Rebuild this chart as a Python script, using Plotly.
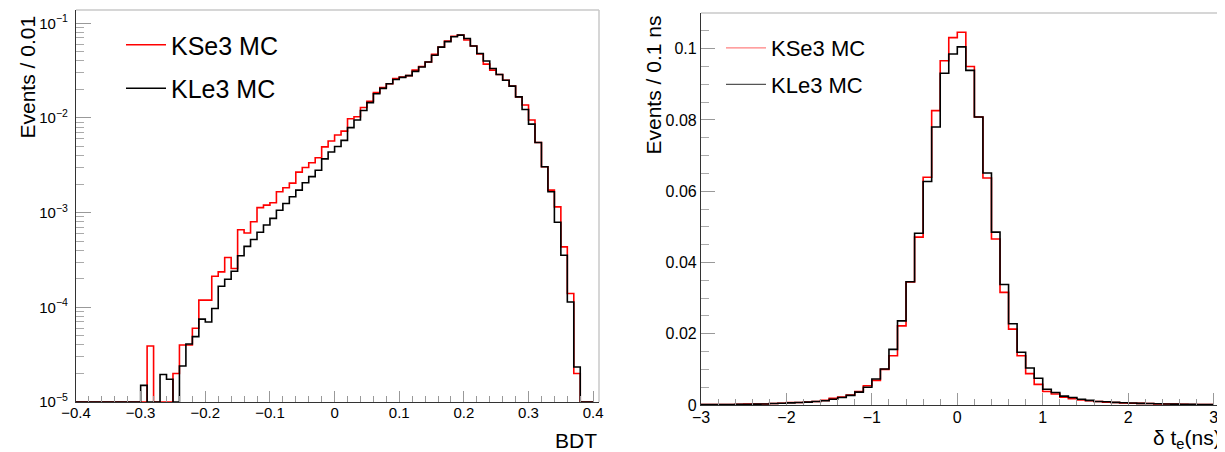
import numpy as np
import plotly.graph_objects as go

# ---------------- data: BDT (left panel), bins of 0.01 from -0.40 ----------------
bdt_low = -0.40
bdt_width = 0.01
bdt_kse3 = [
    0, 0, 0, 0, 0, 0, 0, 0, 0, 0,
    0, 3.9e-5, 0, 0, 0, 2.0e-5, 4.0e-5, 4.0e-5, 6.0e-5, 1.19e-4,
    1.19e-4, 2.13e-4, 2.37e-4, 3.36e-4, 2.57e-4, 6.6e-4, 6.1e-4, 8.0e-4, 1.13e-3, 1.2e-3,
    1.27e-3, 1.66e-3, 1.83e-3, 2.05e-3, 2.68e-3, 3.0e-3, 3.36e-3, 3.8e-3, 4.95e-3, 5.7e-3,
    6.6e-3, 7.25e-3, 9.8e-3, 1.03e-2, 1.29e-2, 1.5e-2, 1.85e-2, 2.1e-2, 2.3e-2, 2.6e-2,
    2.7e-2, 2.8e-2, 3.2e-2, 3.5e-2, 3.9e-2, 4.7e-2, 5.6e-2, 6.5e-2, 7.3e-2, 7.5e-2,
    6.65e-2, 5.75e-2, 4.73e-2, 3.7e-2, 3.2e-2, 2.88e-2, 2.5e-2, 2.17e-2, 1.67e-2, 1.37e-2,
    9.5e-3, 5.5e-3, 3.05e-3, 1.73e-3, 1.15e-3, 4.35e-4, 1.4e-4, 2.0e-5, 0, 0,
]
bdt_kle3 = [
    0, 0, 0, 0, 0, 0, 0, 0, 0, 0,
    1.5e-5, 0, 0, 1.95e-5, 1.74e-5, 0, 2.4e-5, 4.1e-5, 4.9e-5, 7.5e-5,
    7.0e-5, 9.7e-5, 1.67e-4, 1.98e-4, 2.4e-4, 3.5e-4, 4.4e-4, 5.2e-4, 6.2e-4, 7.4e-4,
    8.7e-4, 1.06e-3, 1.25e-3, 1.47e-3, 1.73e-3, 2.07e-3, 2.4e-3, 2.8e-3, 3.7e-3, 4.37e-3,
    5.0e-3, 5.8e-3, 7.9e-3, 9.5e-3, 1.2e-2, 1.45e-2, 1.8e-2, 2.05e-2, 2.3e-2, 2.55e-2,
    2.68e-2, 2.8e-2, 3.1e-2, 3.45e-2, 3.9e-2, 4.6e-2, 5.6e-2, 6.4e-2, 7.2e-2, 7.5e-2,
    6.9e-2, 5.75e-2, 4.8e-2, 4.0e-2, 3.33e-2, 2.88e-2, 2.5e-2, 2.17e-2, 1.67e-2, 1.23e-2,
    8.6e-3, 5.5e-3, 3.05e-3, 1.66e-3, 7.9e-4, 3.55e-4, 1.14e-4, 2.34e-5, 0, 0,
]

# ---------------- data: delta t_e (right panel), bins of 0.1 ns from -3 ----------------
dt_low = -3.0
dt_width = 0.1
dt_kse3 = [
    0.0001, 0.0001, 0.0001, 0.00015, 0.0002, 0.00025, 0.0003, 0.0003, 0.0004, 0.0005,
    0.0007, 0.0007, 0.0008, 0.0010, 0.0013, 0.0019, 0.0022, 0.0028, 0.0038, 0.0054,
    0.0069, 0.0100, 0.0138, 0.0222, 0.0345, 0.0471, 0.0639, 0.0826, 0.0966, 0.1031,
    0.1046, 0.0950, 0.0808, 0.0637, 0.0466, 0.0316, 0.0213, 0.0138, 0.0088, 0.0058,
    0.0038, 0.0031, 0.0022, 0.0018, 0.0014, 0.0012, 0.0010, 0.0008, 0.0007, 0.0006,
    0.0005, 0.00045, 0.0004, 0.0003, 0.0003, 0.00025, 0.0002, 0.00015, 0.00015, 0.0001,
]
dt_kle3 = [
    0.0001, 0.0001, 0.00015, 0.00015, 0.0002, 0.0002, 0.00025, 0.0003, 0.0004, 0.0005,
    0.0006, 0.0007, 0.0008, 0.0010, 0.0012, 0.0016, 0.0021, 0.0027, 0.0036, 0.0050,
    0.0073, 0.0101, 0.0156, 0.0236, 0.0346, 0.0482, 0.0627, 0.0780, 0.0931, 0.0985,
    0.1005, 0.0939, 0.0808, 0.0651, 0.0485, 0.0338, 0.0228, 0.0148, 0.0104, 0.0075,
    0.0044, 0.0035, 0.0025, 0.0021, 0.0016, 0.0013, 0.0010, 0.0009, 0.00075, 0.00065,
    0.00055, 0.00045, 0.0004, 0.00035, 0.0003, 0.00025, 0.0002, 0.0002, 0.00015, 0.00015,
]

series_names = ["KSe3 MC", "KLe3 MC"]
log_tick_vals = [1e-5, 1e-4, 1e-3, 1e-2, 1e-1]
log_tick_text = ["10<sup>\u22125</sup>", "10<sup>\u22124</sup>", "10<sup>\u22123</sup>",
                 "10<sup>\u22122</sup>", "10<sup>\u22121</sup>"]

FONT = "Liberation Sans, Arial, Helvetica, sans-serif"
RED = "#ff0000"
BLACK = "#000000"


def step(low, width, vals, floor=None):
    n = len(vals)
    edges = [round(low + i * width, 6) for i in range(n + 1)]
    y = list(vals) + [vals[-1]]
    if floor is not None:
        y = [v if v > 0 else floor for v in y]
    return edges, y


# The page body has an 8px default margin: size the figure to the remaining
# window and express page-pixel positions relative to the figure origin.
PAGE_W, PAGE_H, OFF = 1225, 452, 8
W, H = PAGE_W - OFF, PAGE_H - OFF


def fx(px):
    return (px - OFF) / W


def fy(py):
    return (PAGE_H - py) / H


fig = go.Figure()

# left panel
for vals, name, col, grp in [(bdt_kse3, series_names[0], RED, "a"), (bdt_kle3, series_names[1], BLACK, "b")]:
    xs, ys = step(bdt_low, bdt_width, vals, floor=1e-5)
    fig.add_trace(go.Scatter(x=xs, y=ys, mode="lines", name=name, legendgroup=grp,
                             line=dict(color=col, width=1.6, shape="hv"),
                             xaxis="x", yaxis="y", legend="legend"))

# right panel
for vals, name, col in [(dt_kse3, series_names[0], RED), (dt_kle3, series_names[1], BLACK)]:
    xs, ys = step(dt_low, dt_width, vals)
    fig.add_trace(go.Scatter(x=xs, y=ys, mode="lines", name=name, showlegend=False,
                             line=dict(color=col, width=1.6, shape="hv"),
                             xaxis="x2", yaxis="y2"))
# right legend entries (thin, lighter sample lines as in the reference)
for name, col, grp in [(series_names[0], "#ff8080", "c"), (series_names[1], "#555555", "d")]:
    fig.add_trace(go.Scatter(x=[None], y=[None], mode="lines", name=name, legendgroup=grp,
                             line=dict(color=col, width=1.2),
                             xaxis="x2", yaxis="y2", legend="legend2"))

axis_common = dict(showgrid=False, zeroline=False, showline=True, linecolor="#333333",
                   linewidth=1.2, ticks="inside", tickcolor="#999999", tickwidth=1.2,
                   automargin=False)

fig.update_layout(
    width=W, height=H, autosize=False,
    margin=dict(l=0, r=0, t=0, b=0, pad=0, autoexpand=False),
    paper_bgcolor="white", plot_bgcolor="white",
    font=dict(family=FONT, color="#000000"),
    xaxis=dict(domain=[fx(76), fx(599)], anchor="y", range=[-0.4, 0.409],
               tick0=0, dtick=0.1, ticklen=11, ticklabelstandoff=-3,
               tickfont=dict(family=FONT, size=15, color="#000000"),
               minor=dict(dtick=0.02, tick0=0, ticks="inside", ticklen=6, tickcolor="#999999"),
               **axis_common),
    yaxis=dict(domain=[fy(402), fy(10)], anchor="x", type="log", range=[-5, -0.86],
               tickmode="array", tickvals=log_tick_vals, ticktext=log_tick_text,
               ticklen=15, ticklabelstandoff=4,
               tickfont=dict(family=FONT, size=15, color="#000000"),
               minor=dict(tickmode="array",
                          tickvals=[m * 10 ** e for e in range(-5, -1) for m in range(2, 10)],
                          ticks="inside", ticklen=8, tickcolor="#aaaaaa"),
               **axis_common),
    xaxis2=dict(domain=[fx(701), fx(1223)], anchor="y2", range=[-3, 3.11],
                tick0=0, dtick=1, ticklen=12, ticklabelstandoff=-2,
                tickfont=dict(family=FONT, size=16, color="#000000"),
                minor=dict(dtick=0.2, tick0=0, ticks="inside", ticklen=6, tickcolor="#999999"),
                **axis_common),
    yaxis2=dict(domain=[fy(405), fy(13)], anchor="x2", range=[0, 0.11],
                tick0=0, dtick=0.02, ticklen=14, ticklabelstandoff=0,
                tickfont=dict(family=FONT, size=16, color="#000000"),
                minor=dict(dtick=0.005, tick0=0, ticks="inside", ticklen=8, tickcolor="#aaaaaa"),
                **axis_common),
    legend=dict(x=fx(121), y=fy(22), xanchor="left", yanchor="top",
                bgcolor="rgba(0,0,0,0)", font=dict(family=FONT, size=25),
                traceorder="grouped", tracegroupgap=8, itemwidth=40),
    legend2=dict(x=fx(721), y=fy(27), xanchor="left", yanchor="top",
                 bgcolor="rgba(0,0,0,0)", font=dict(family=FONT, size=22),
                 traceorder="grouped", tracegroupgap=5, itemwidth=40),
)

# light-grey frame edges (top and right) of each pad
for xr, yr in [("x domain", "y domain"), ("x2 domain", "y2 domain")]:
    fig.add_shape(type="line", xref=xr, yref=yr, x0=0, x1=1, y0=1, y1=1,
                  line=dict(color="#c8c8c8", width=1.5))
    fig.add_shape(type="line", xref=xr, yref=yr, x0=1, x1=1, y0=0, y1=1,
                  line=dict(color="#c8c8c8", width=1.5))

# axis titles (ROOT style: right / top aligned)
fig.add_annotation(text="BDT", xref="paper", yref="paper", x=fx(599), y=fy(440),
                   xanchor="right", yanchor="middle", showarrow=False,
                   font=dict(family=FONT, size=21))
fig.add_annotation(text="\u03b4 t<sub>e</sub>(ns)", xref="paper", yref="paper", x=fx(1223), y=fy(439),
                   xanchor="right", yanchor="middle", showarrow=False,
                   font=dict(family=FONT, size=21))
fig.add_annotation(text="Events / 0.01", xref="paper", yref="paper", x=fx(27), y=fy(14),
                   xanchor="center", yanchor="top", textangle=-90, showarrow=False,
                   font=dict(family=FONT, size=21))
fig.add_annotation(text="Events / 0.1 ns", xref="paper", yref="paper", x=fx(653), y=fy(14),
                   xanchor="center", yanchor="top", textangle=-90, showarrow=False,
                   font=dict(family=FONT, size=21))

fig.write_html("out.html")
